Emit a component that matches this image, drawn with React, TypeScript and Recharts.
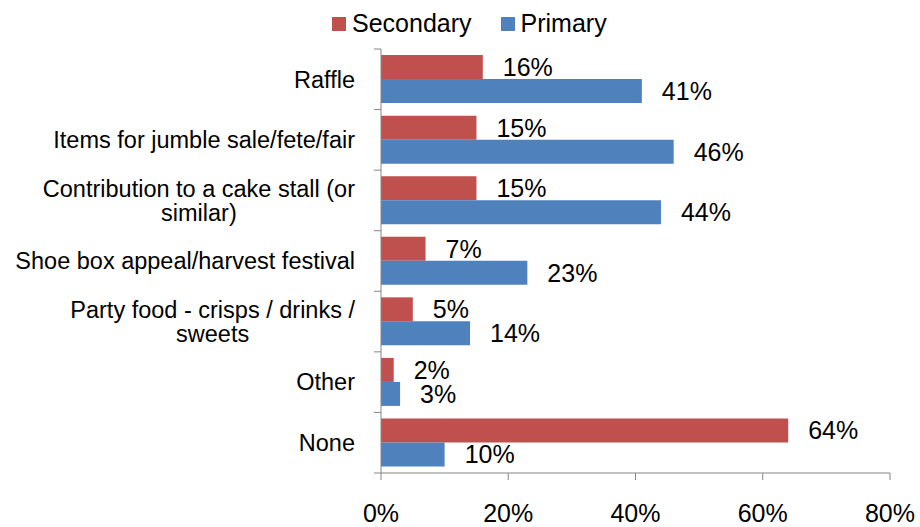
import React from "react";
import { BarChart, Bar, XAxis, YAxis, Legend, LabelList } from "recharts";

const categories = [
  "Raffle",
  "Items for jumble sale/fete/fair",
  "Contribution to a cake stall (or similar)",
  "Shoe box appeal/harvest festival",
  "Party food - crisps / drinks / sweets",
  "Other",
  "None",
];
const secondary = [16, 15, 15, 7, 5, 2, 64];
const primary = [41, 46, 44, 23, 14, 3, 10];
const xTicks = [0, 20, 40, 60, 80];
const seriesOrder = ["Secondary", "Primary"];

const data = categories.map((name, i) => ({
  name,
  secondary: secondary[i],
  primary: primary[i],
}));

const W = 920;
const H = 527;
const margin = { top: 49, right: 30, bottom: 0, left: 0 };
const X_AXIS_H = 54;
const Y_AXIS_W = 381;
const RED = "#C0504D";
const BLUE = "#4F81BD";
const AXIS = "#868686";
const FONT = "'Liberation Sans', Arial, sans-serif";
const LABEL_SIZE = 23.5;
const NUM_SIZE = 25;
const MAX_LABEL_W = 350;
const LINE_H = 24;
const Y_TICK_SIZE = 8;
const Y_TICK_MARGIN = 18;

let ctx: CanvasRenderingContext2D | null = null;
function measure(text: string, size: number) {
  if (!ctx) ctx = document.createElement("canvas").getContext("2d");
  if (!ctx) return text.length * size * 0.5;
  ctx.font = `${size}px 'Liberation Sans'`;
  return ctx.measureText(text).width;
}

// word wrap like Excel does for long category names
function wrap(text: string) {
  const words = text.split(" ");
  const lines: string[] = [];
  let cur = "";
  for (const w of words) {
    const next = cur ? cur + " " + w : w;
    if (cur && measure(next, LABEL_SIZE) > MAX_LABEL_W) {
      lines.push(cur);
      cur = w;
    } else cur = next;
  }
  if (cur) lines.push(cur);
  return lines;
}

function CategoryTick(props: any) {
  const { x, y, payload, index } = props;
  const step = (H - margin.top - margin.bottom - X_AXIS_H) / categories.length;
  const axisX = x + Y_TICK_SIZE + Y_TICK_MARGIN;
  const lines = wrap(String(payload.value));
  const firstW = measure(lines[0], LABEL_SIZE);
  const startY = y - ((lines.length - 1) * LINE_H) / 2;
  return (
    <g>
      <line x1={axisX - 7} x2={axisX} y1={y - step / 2} y2={y - step / 2} stroke={AXIS} />
      {index === categories.length - 1 && (
        <line x1={axisX - 7} x2={axisX} y1={y + step / 2} y2={y + step / 2} stroke={AXIS} />
      )}
      {lines.map((ln, i) => (
        <text
          key={i}
          x={i === 0 ? x : x - firstW / 2}
          y={startY + i * LINE_H}
          dy="0.35em"
          textAnchor={i === 0 ? "end" : "middle"}
          fill="#000"
          fontSize={LABEL_SIZE}
          fontFamily={FONT}
        >
          {ln}
        </text>
      ))}
    </g>
  );
}

function LegendContent(props: any) {
  const payload = [...(props.payload || [])].sort(
    (a: any, b: any) => seriesOrder.indexOf(a.value) - seriesOrder.indexOf(b.value)
  );
  return (
    <div style={{ display: "flex", gap: 29, fontFamily: FONT, fontSize: NUM_SIZE, lineHeight: "29px", color: "#000" }}>
      {payload.map((p: any) => (
        <div key={p.value} style={{ display: "flex", alignItems: "center", gap: 6 }}>
          <span style={{ width: 14, height: 14, background: p.color, display: "inline-block" }} />
          <span>{p.value}</span>
        </div>
      ))}
    </div>
  );
}

export default function App() {
  return (
    <div style={{ width: W, height: H, background: "#fff" }}>
      <style>{"body{margin:0}"}</style>
      <BarChart
        width={W}
        height={H}
        data={data}
        layout="vertical"
        margin={margin}
        barCategoryGap="10%"
        barGap={0}
        style={{ fontFamily: FONT }}
      >
        <XAxis
          type="number"
          domain={[0, 80]}
          ticks={xTicks}
          tickFormatter={(v) => `${v}%`}
          height={X_AXIS_H}
          tickSize={7}
          tickMargin={24}
          stroke={AXIS}
          tick={{ fill: "#000", fontSize: NUM_SIZE, fontFamily: FONT }}
        />
        <YAxis
          type="category"
          dataKey="name"
          width={Y_AXIS_W}
          stroke={AXIS}
          tickLine={false}
          tickSize={Y_TICK_SIZE}
          tickMargin={Y_TICK_MARGIN}
          interval={0}
          tick={<CategoryTick />}
        />
        <Legend
          verticalAlign="middle"
          content={<LegendContent />}
          wrapperStyle={{ top: 9, left: 332, width: "auto" }}
        />
        <Bar dataKey="secondary" name="Secondary" fill={RED} isAnimationActive={false}>
          <LabelList
            dataKey="secondary"
            position="right"
            offset={20}
            formatter={(v: any) => `${v}%`}
            style={{ fill: "#000", fontSize: NUM_SIZE, fontFamily: FONT }}
          />
        </Bar>
        <Bar dataKey="primary" name="Primary" fill={BLUE} isAnimationActive={false}>
          <LabelList
            dataKey="primary"
            position="right"
            offset={20}
            formatter={(v: any) => `${v}%`}
            style={{ fill: "#000", fontSize: NUM_SIZE, fontFamily: FONT }}
          />
        </Bar>
      </BarChart>
    </div>
  );
}
